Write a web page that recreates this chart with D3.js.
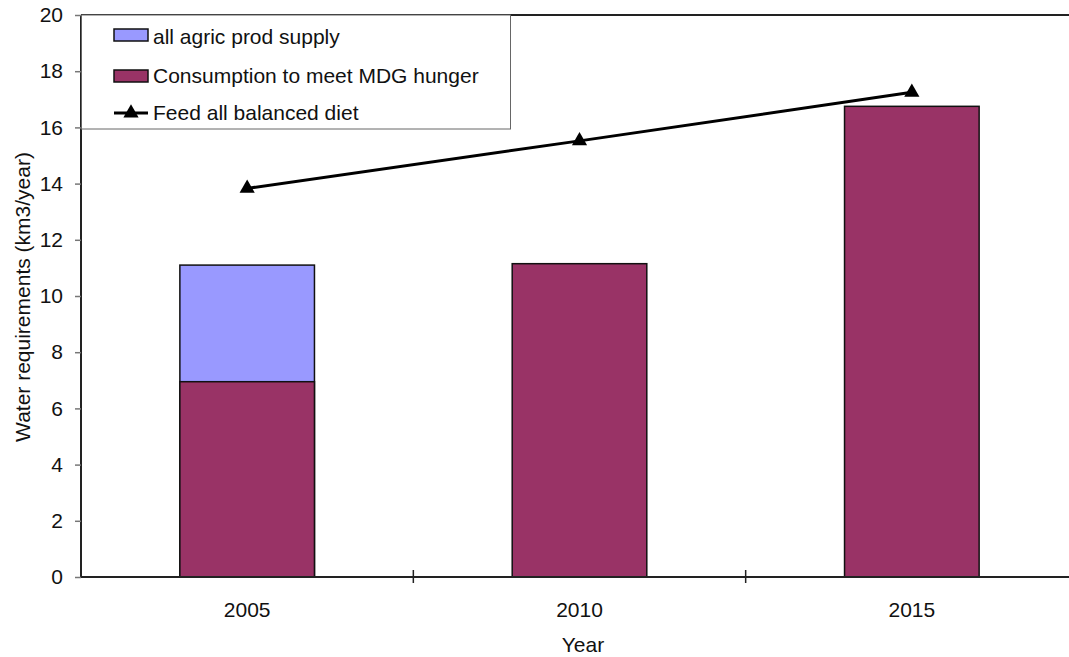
<!DOCTYPE html>
<html><head><meta charset="utf-8">
<script src="https://cdn.jsdelivr.net/npm/d3@7"></script>
<style>body{margin:0;background:#fff}svg{display:block;font-family:"Liberation Sans",Arial,sans-serif}</style>
</head><body><svg id="c" width="1069" height="657"></svg>
<script>
const years = ["2005","2010","2015"];
const supply = [11.1, null, null];            // all agric prod supply
const consumption = [6.95, 11.15, 16.75];     // Consumption to meet MDG hunger
const balanced = [13.83, 15.52, 17.25];       // Feed all balanced diet
const yTicks = [0,2,4,6,8,10,12,14,16,18,20];
const legendLabels = ["all agric prod supply","Consumption to meet MDG hunger","Feed all balanced diet"];

const svg = d3.select("#c");
const FS = 21;
const L = 81, R = 1078, T = 15, B = 577;
const x = d3.scaleBand().domain(years).range([L, R]).paddingInner(0.595).paddingOuter(0.2975);
const xb = d3.scaleBand().domain(years).range([L, R]);
const y = d3.scaleLinear().domain([0, 20]).range([B, T]);

// top border
svg.append("line").attr("x1", L).attr("x2", 1069).attr("y1", T).attr("y2", T).attr("stroke", "#222").attr("stroke-width", 2);

// bars
svg.append("g").selectAll("rect").data(years.map((d,i)=>({d,v:supply[i]})).filter(o=>o.v!=null))
  .join("rect").attr("x", o=>x(o.d)).attr("width", x.bandwidth())
  .attr("y", o=>y(o.v)).attr("height", o=>B - y(o.v))
  .attr("fill", "#9999FF").attr("stroke", "#111").attr("stroke-width", 1.5);
svg.append("g").selectAll("rect").data(years.map((d,i)=>({d,v:consumption[i]})))
  .join("rect").attr("x", o=>x(o.d)).attr("width", x.bandwidth())
  .attr("y", o=>y(o.v)).attr("height", o=>B - y(o.v))
  .attr("fill", "#993366").attr("stroke", "#111").attr("stroke-width", 1.5);

// y axis
const ya = svg.append("g").attr("transform", `translate(${L},0)`)
  .call(d3.axisLeft(y).tickValues(yTicks).tickSize(6).tickPadding(12).tickFormat(d3.format("d")));
ya.select(".domain").attr("stroke", "#222").attr("stroke-width", 2).attr("d", `M0,${B}V${T}`);
ya.selectAll(".tick line").attr("stroke", "#777").attr("stroke-width", 1.5);
ya.selectAll("text").attr("font-size", FS).attr("fill", "#111").attr("font-family", "Liberation Sans, Arial, sans-serif");

// x axis
const xa = svg.append("g").attr("transform", `translate(0,${B})`)
  .call(d3.axisBottom(xb).tickSize(0).tickPadding(25));
xa.select(".domain").attr("stroke", "#222").attr("stroke-width", 2).attr("d", `M${L},0H1069`);
xa.selectAll("text").attr("font-size", FS).attr("fill", "#111").attr("font-family", "Liberation Sans, Arial, sans-serif");
svg.append("g").selectAll("line").data(years.slice(1))
  .join("line").attr("x1", d=>xb(d)).attr("x2", d=>xb(d)).attr("y1", B-7).attr("y2", B+6)
  .attr("stroke", "#222").attr("stroke-width", 1.5);

// line series
const cx = d => xb(d) + xb.bandwidth()/2;
svg.append("path").datum(balanced)
  .attr("d", d3.line().x((v,i)=>cx(years[i])).y(v=>y(v)))
  .attr("fill", "none").attr("stroke", "#000").attr("stroke-width", 3);
const tri = d3.symbol().type(d3.symbolTriangle).size(100);
svg.append("g").selectAll("path").data(balanced).join("path")
  .attr("d", tri).attr("transform", (v,i)=>`translate(${cx(years[i])},${y(v)})`).attr("fill", "#000");

// axis titles
svg.append("text").attr("x", 583).attr("y", 652).attr("text-anchor", "middle")
  .attr("font-size", FS).attr("fill", "#111").text("Year");
svg.append("text").attr("transform", `translate(30,297) rotate(-90)`).attr("text-anchor", "middle")
  .attr("font-size", FS).attr("fill", "#111").text("Water requirements (km3/year)");

// legend
const lg = svg.append("g");
lg.append("rect").attr("x", L+0.5).attr("y", T).attr("width", 429).attr("height", 114)
  .attr("fill", "#fff").attr("stroke", "#666").attr("stroke-width", 1);
const rowsY = [35, 76, 113];
const textY = [44, 83, 120];
const fills = ["#9999FF", "#993366"];
legendLabels.forEach((t, i) => {
  if (i < 2) {
    lg.append("rect").attr("x", 114).attr("y", rowsY[i]-6).attr("width", 34).attr("height", 12)
      .attr("fill", fills[i]).attr("stroke", "#111").attr("stroke-width", 1.5);
  } else {
    lg.append("line").attr("x1", 114).attr("x2", 148).attr("y1", rowsY[i]).attr("y2", rowsY[i])
      .attr("stroke", "#000").attr("stroke-width", 3);
    lg.append("path").attr("d", tri).attr("transform", `translate(131,${rowsY[i]})`).attr("fill", "#000");
  }
  lg.append("text").attr("x", 153).attr("y", textY[i]).attr("font-size", 21).attr("fill", "#111").text(t);
});
</script></body></html>
